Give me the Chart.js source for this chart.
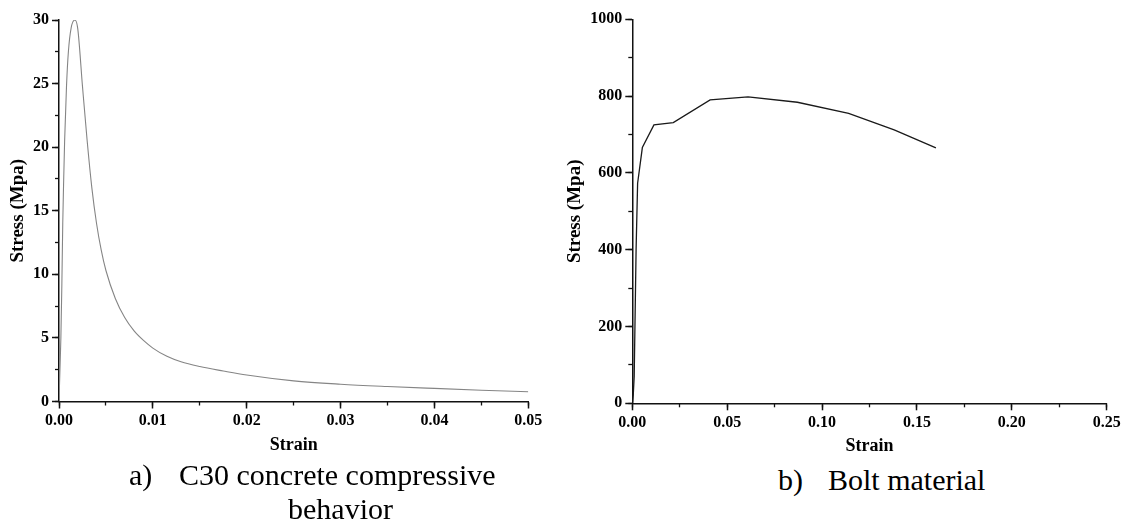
<!DOCTYPE html>
<html><head><meta charset="utf-8">
<script src="https://cdn.jsdelivr.net/npm/chart.js@4.4.1/dist/chart.umd.min.js"></script>
<style>
html,body{margin:0;padding:0;background:#fff;width:1124px;height:523px;overflow:hidden;position:relative}
canvas{position:absolute;top:0}
#cA{left:0}
#cB{left:560px}
.cap{position:absolute;font-family:"Liberation Serif","Times New Roman",serif;font-size:30px;line-height:30px;color:#000;white-space:nowrap}
</style></head><body>
<canvas id="cA" width="560" height="460"></canvas>
<canvas id="cB" width="564" height="460"></canvas>
<div class="cap" style="left:129px;top:460px">a)</div>
<div class="cap" style="left:179px;top:460px">C30 concrete compressive</div>
<div class="cap" style="left:288px;top:494px">behavior</div>
<div class="cap" style="left:778px;top:465px">b)</div>
<div class="cap" style="left:828px;top:465px">Bolt material</div>
<script>
// ---- data ----
const strainA = [0, 0.0001, 0.0002, 0.0003, 0.0004, 0.0005, 0.0006, 0.0008, 0.001, 0.0013, 0.0017, 0.002, 0.0025, 0.003, 0.0035, 0.004, 0.0045, 0.005, 0.006, 0.007, 0.008, 0.009, 0.01, 0.0115, 0.013, 0.015, 0.0175, 0.02, 0.025, 0.03, 0.035, 0.04, 0.045, 0.05];
const stressA = [0, 2.5, 5, 9, 14, 17.5, 20.5, 24.8, 27.5, 29.4, 30, 29.3, 24.8, 20.5, 16.8, 14.0, 11.9, 10.3, 8.1, 6.6, 5.55, 4.8, 4.2, 3.55, 3.12, 2.75, 2.4, 2.08, 1.62, 1.36, 1.18, 1.03, 0.89, 0.77];
const strainB = [0, 0.0005, 0.001, 0.002, 0.0028, 0.0053, 0.0114, 0.0216, 0.041, 0.061, 0.087, 0.114, 0.138, 0.16];
const stressB = [0, 22, 70, 400, 573, 666, 725, 731, 790, 798, 784, 755, 712, 665];
// axis ranges: [min, max, major step, minor step]
const xRangeA = [0, 0.05, 0.01, 0.005];
const yRangeA = [0, 30, 5, 2.5];
const xRangeB = [0, 0.25, 0.05, 0.025];
const yRangeB = [0, 1000, 200, 100];
const xTitle = 'Strain';
const yTitle = 'Stress (Mpa)';

const FAM = '"Liberation Serif", "Times New Roman", serif';
const AX = '#111';

function build(id, strain, stress, xr, yr, L, line) {
  const data = strain.map((x, i) => ({x: x, y: stress[i]}));
  const tickFont = {family: FAM, weight: 'bold', size: 16};
  const minorAxis = (pos, r, w) => ({
    type: 'linear', position: pos, weight: w, min: r[0], max: r[1],
    ticks: {stepSize: r[3], display: false, autoSkip: false},
    grid: {drawOnChartArea: false, tickLength: 4, tickWidth: 1.3, tickColor: AX},
    border: {display: false},
    afterFit: s => { if (pos === 'bottom') s.height = 0; else s.width = 0; }
  });
  return new Chart(document.getElementById(id), {
    type: 'line',
    data: {datasets: [{
      data: data, borderColor: line.color, borderWidth: line.width, pointRadius: 0,
      fill: false, tension: 0, cubicInterpolationMode: line.smooth ? 'monotone' : 'default'
    }]},
    options: {
      responsive: false, animation: false, devicePixelRatio: 1,
      layout: {padding: {left: 0, top: L.top, right: L.right, bottom: 0}},
      plugins: {legend: {display: false}, tooltip: {enabled: false}},
      scales: {
        x: {
          type: 'linear', position: 'bottom', weight: 1, min: xr[0], max: xr[1],
          ticks: {stepSize: xr[2], font: tickFont, color: '#000', padding: 3, autoSkip: false, maxRotation: 0,
                  callback: v => Number(v).toFixed(2)},
          grid: {drawOnChartArea: false, tickLength: 7, tickWidth: 1.5, tickColor: AX},
          border: {color: AX, width: 1.5},
          title: {display: true, text: xTitle, color: '#000',
                  font: {family: FAM, weight: 'bold', size: 18}, padding: {top: 0, bottom: L.xTitlePad}},
          afterFit: s => { s.height = L.xAxisH; }
        },
        xm: minorAxis('bottom', xr, 0),
        y: {
          type: 'linear', position: 'left', weight: 1, min: yr[0], max: yr[1],
          ticks: {stepSize: yr[2], font: tickFont, color: '#000', padding: 3, autoSkip: false,
                  callback: v => String(Math.round(v))},
          grid: {drawOnChartArea: false, tickLength: 7, tickWidth: 1.5, tickColor: AX},
          border: {color: AX, width: 1.5},
          title: {display: true, text: yTitle, color: '#000',
                  font: {family: FAM, weight: 'bold', size: 19}, padding: {top: L.yTitlePad, bottom: 0}},
          afterFit: s => { s.width = L.yAxisW; }
        },
        ym: minorAxis('left', yr, 0)
      }
    }
  });
}

build('cA', strainA, stressA, xRangeA, yRangeA,
      {top: 20, right: 31.7, yAxisW: 59, xAxisH: 58.5, yTitlePad: 6.6, xTitlePad: 4.2},
      {color: '#858585', width: 1.1, smooth: true});
build('cB', strainB, stressB, xRangeB, yRangeB,
      {top: 19.3, right: 17.3, yAxisW: 72.3, xAxisH: 56.7, yTitlePad: 3.6, xTitlePad: 3.2},
      {color: '#1a1a1a', width: 1.3, smooth: false});
</script>
</body></html>
